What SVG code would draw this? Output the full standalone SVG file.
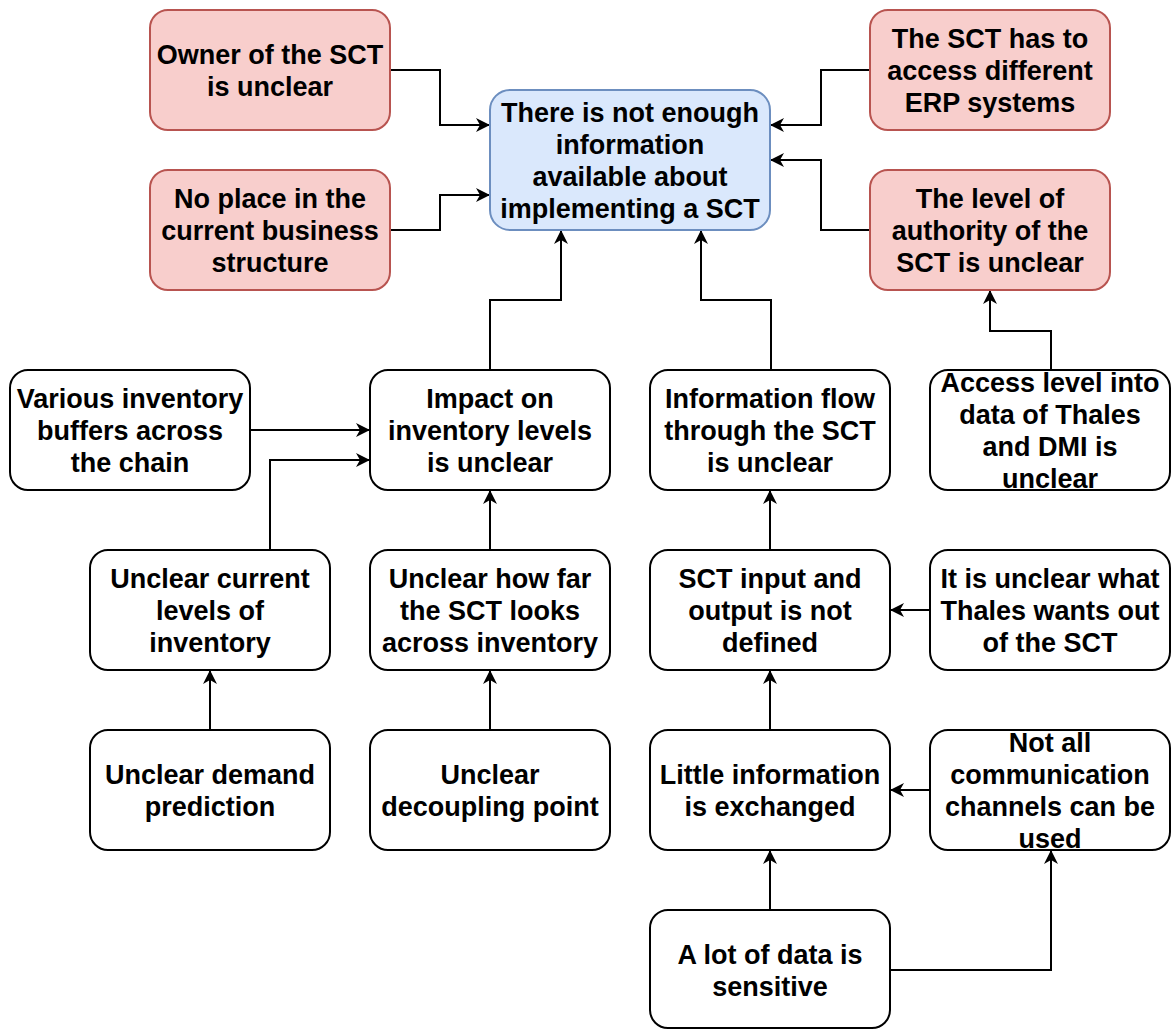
<svg xmlns="http://www.w3.org/2000/svg" width="1173" height="1030" viewBox="0 0 1173 1030">
<style>
.box{fill:#ffffff;stroke:#000000;stroke-width:2}
.pink{fill:#f8cecc;stroke:#b85450;stroke-width:2}
.blue{fill:#dae8fc;stroke:#6c8ebf;stroke-width:2}
text{font-family:"Liberation Sans",Arial,sans-serif;font-size:27px;font-weight:bold;fill:#000;text-anchor:middle}
.edge{fill:none;stroke:#000;stroke-width:2;marker-end:url(#arr)}
</style>
<defs>
<marker id="arr" markerWidth="16" markerHeight="14" refX="14" refY="7" orient="auto" markerUnits="userSpaceOnUse">
<path d="M0,0 L14,7 L0,14 L4,7 Z" fill="#000"/>
</marker>
</defs>
<rect width="1173" height="1030" fill="#ffffff"/>
<g id="connectors">
<path class="edge" d="M390,70 H440 V125 H490"/>
<path class="edge" d="M390,230 H440 V195 H490"/>
<path class="edge" d="M870,70 H821 V125 H770"/>
<path class="edge" d="M870,230 H821 V160 H770"/>
<path class="edge" d="M490,370 V300 H561 V230"/>
<path class="edge" d="M771,370 V300 H701 V230"/>
<path class="edge" d="M1051,370 V331 H990 V290"/>
<path class="edge" d="M250,430 H370"/>
<path class="edge" d="M270,550 V460 H370"/>
<path class="edge" d="M490,550 V490"/>
<path class="edge" d="M770,550 V490"/>
<path class="edge" d="M930,610 H890"/>
<path class="edge" d="M210,730 V670"/>
<path class="edge" d="M490,730 V670"/>
<path class="edge" d="M770,730 V670"/>
<path class="edge" d="M930,790 H890"/>
<path class="edge" d="M770,910 V850"/>
<path class="edge" d="M890,970 H1051 V850"/>
</g>
<g id="owner">
<rect class="pink" x="150" y="10" width="240" height="120" rx="18"/>
<text x="270" y="64">Owner of the SCT</text>
<text x="270" y="96">is unclear</text>
</g>
<g id="noplace">
<rect class="pink" x="150" y="170" width="240" height="120" rx="18"/>
<text x="270" y="208">No place in the</text>
<text x="270" y="240">current business</text>
<text x="270" y="272">structure</text>
</g>
<g id="center">
<rect class="blue" x="490" y="90" width="280" height="140" rx="20"/>
<text x="630" y="122">There is not enough</text>
<text x="630" y="154">information</text>
<text x="630" y="186">available about</text>
<text x="630" y="218">implementing a SCT</text>
</g>
<g id="erp">
<rect class="pink" x="870" y="10" width="240" height="120" rx="18"/>
<text x="990" y="48">The SCT has to</text>
<text x="990" y="80">access different</text>
<text x="990" y="112">ERP systems</text>
</g>
<g id="authority">
<rect class="pink" x="870" y="170" width="240" height="120" rx="18"/>
<text x="990" y="208">The level of</text>
<text x="990" y="240">authority of the</text>
<text x="990" y="272">SCT is unclear</text>
</g>
<g id="buffers">
<rect class="box" x="10" y="370" width="240" height="120" rx="18"/>
<text x="130" y="408">Various inventory</text>
<text x="130" y="440">buffers across</text>
<text x="130" y="472">the chain</text>
</g>
<g id="impact">
<rect class="box" x="370" y="370" width="240" height="120" rx="18"/>
<text x="490" y="408">Impact on</text>
<text x="490" y="440">inventory levels</text>
<text x="490" y="472">is unclear</text>
</g>
<g id="infoflow">
<rect class="box" x="650" y="370" width="240" height="120" rx="18"/>
<text x="770" y="408">Information flow</text>
<text x="770" y="440">through the SCT</text>
<text x="770" y="472">is unclear</text>
</g>
<g id="access">
<rect class="box" x="930" y="370" width="240" height="120" rx="18"/>
<text x="1050" y="392">Access level into</text>
<text x="1050" y="424">data of Thales</text>
<text x="1050" y="456">and DMI is</text>
<text x="1050" y="488">unclear</text>
</g>
<g id="currentlevels">
<rect class="box" x="90" y="550" width="240" height="120" rx="18"/>
<text x="210" y="588">Unclear current</text>
<text x="210" y="620">levels of</text>
<text x="210" y="652">inventory</text>
</g>
<g id="howfar">
<rect class="box" x="370" y="550" width="240" height="120" rx="18"/>
<text x="490" y="588">Unclear how far</text>
<text x="490" y="620">the SCT looks</text>
<text x="490" y="652">across inventory</text>
</g>
<g id="inputoutput">
<rect class="box" x="650" y="550" width="240" height="120" rx="18"/>
<text x="770" y="588">SCT input and</text>
<text x="770" y="620">output is not</text>
<text x="770" y="652">defined</text>
</g>
<g id="thaleswants">
<rect class="box" x="930" y="550" width="240" height="120" rx="18"/>
<text x="1050" y="588">It is unclear what</text>
<text x="1050" y="620">Thales wants out</text>
<text x="1050" y="652">of the SCT</text>
</g>
<g id="demand">
<rect class="box" x="90" y="730" width="240" height="120" rx="18"/>
<text x="210" y="784">Unclear demand</text>
<text x="210" y="816">prediction</text>
</g>
<g id="decoupling">
<rect class="box" x="370" y="730" width="240" height="120" rx="18"/>
<text x="490" y="784">Unclear</text>
<text x="490" y="816">decoupling point</text>
</g>
<g id="littleinfo">
<rect class="box" x="650" y="730" width="240" height="120" rx="18"/>
<text x="770" y="784">Little information</text>
<text x="770" y="816">is exchanged</text>
</g>
<g id="channels">
<rect class="box" x="930" y="730" width="240" height="120" rx="18"/>
<text x="1050" y="752">Not all</text>
<text x="1050" y="784">communication</text>
<text x="1050" y="816">channels can be</text>
<text x="1050" y="848">used</text>
</g>
<g id="sensitive">
<rect class="box" x="650" y="910" width="240" height="118" rx="18"/>
<text x="770" y="964">A lot of data is</text>
<text x="770" y="996">sensitive</text>
</g>
</svg>
